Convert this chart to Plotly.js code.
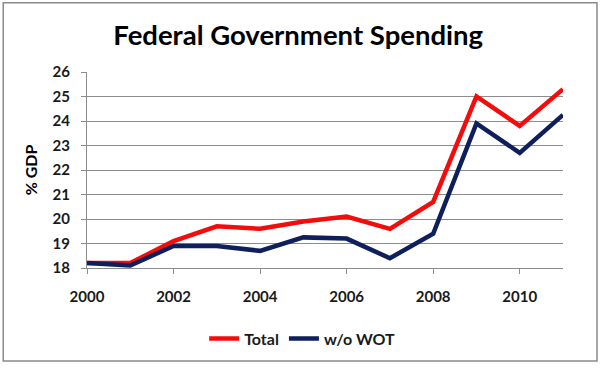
<!DOCTYPE html>
<html>
<head>
<meta charset="utf-8">
<script src="https://cdn.plot.ly/plotly-3.0.1.min.js"></script>
<style>html,body{margin:0;padding:0;background:#fff;}#chart{width:600px;height:368px;}</style>
</head>
<body>
<div id="chart"></div>
<script>
const years = [2000,2001,2002,2003,2004,2005,2006,2007,2008,2009,2010,2011];
const total = [18.2,18.2,19.1,19.7,19.6,19.9,20.1,19.6,20.7,25.0,23.8,25.3];
const woWot = [18.2,18.1,18.9,18.9,18.7,19.25,19.2,18.4,19.4,23.9,22.7,24.25];
const xTicks = [2000,2002,2004,2006,2008,2010];
const yTicks = [18,19,20,21,22,23,24,25,26];

const font = "Lato, 'Open Sans', sans-serif";
const traces = [
  {x: years, y: total, name: 'Total', mode: 'lines', line: {color: '#f40c0c', width: 4.5}},
  {x: years, y: woWot, name: 'w/o WOT', mode: 'lines', line: {color: '#0e1f5b', width: 4.5}}
];
const layout = {
  width: 600, height: 368,
  margin: {l: 87, r: 37, t: 72, b: 98},
  paper_bgcolor: '#fff', plot_bgcolor: '#fff',
  font: {family: font, color: '#1a1a1a'},
  title: {text: '<b>Federal Government Spending</b>', font: {family: font, size: 27.5, color: '#000'}, x: 0.497, xanchor: 'center', y: 0.905, yanchor: 'middle'},
  xaxis: {range: [2000, 2011], tickvals: xTicks, ticktext: xTicks.map(String),
    showgrid: false, zeroline: false, showline: true, linecolor: '#8c8c8c', linewidth: 1,
    ticks: 'outside', ticklen: 5, tickcolor: '#8c8c8c', ticklabelstandoff: 10,
    tickfont: {family: font, size: 15, color: '#1a1a1a', weight: 'bold'}, fixedrange: true},
  yaxis: {range: [18, 26], tickvals: yTicks, ticktext: yTicks.map(String),
    showgrid: true, gridcolor: '#8c8c8c', gridwidth: 1, zeroline: false, showline: true, linecolor: '#8c8c8c', linewidth: 1,
    ticks: 'outside', ticklen: 5, tickcolor: '#8c8c8c', ticklabelstandoff: 8,
    tickfont: {family: font, size: 15, color: '#1a1a1a', weight: 'bold'},
    title: {text: '<b>% GDP</b>', font: {family: font, size: 16, color: '#000'}, standoff: 10}, fixedrange: true},
  showlegend: true,
  legend: {orientation: 'h', x: 0.452, xanchor: 'center', y: -0.36, yanchor: 'middle', font: {family: font, size: 16, color: '#1a1a1a', weight: 'bold'}, itemwidth: 30, tracegroupgap: 0},
  shapes: [{type: 'rect', xref: 'paper', yref: 'paper', x0: -0.176, x1: 1.0714, y0: -0.4747, y1: 1.3535, line: {color: '#8a8a8a', width: 1.5}}]
};
Plotly.newPlot('chart', traces, layout, {displayModeBar: false, staticPlot: true});
</script>
</body>
</html>
